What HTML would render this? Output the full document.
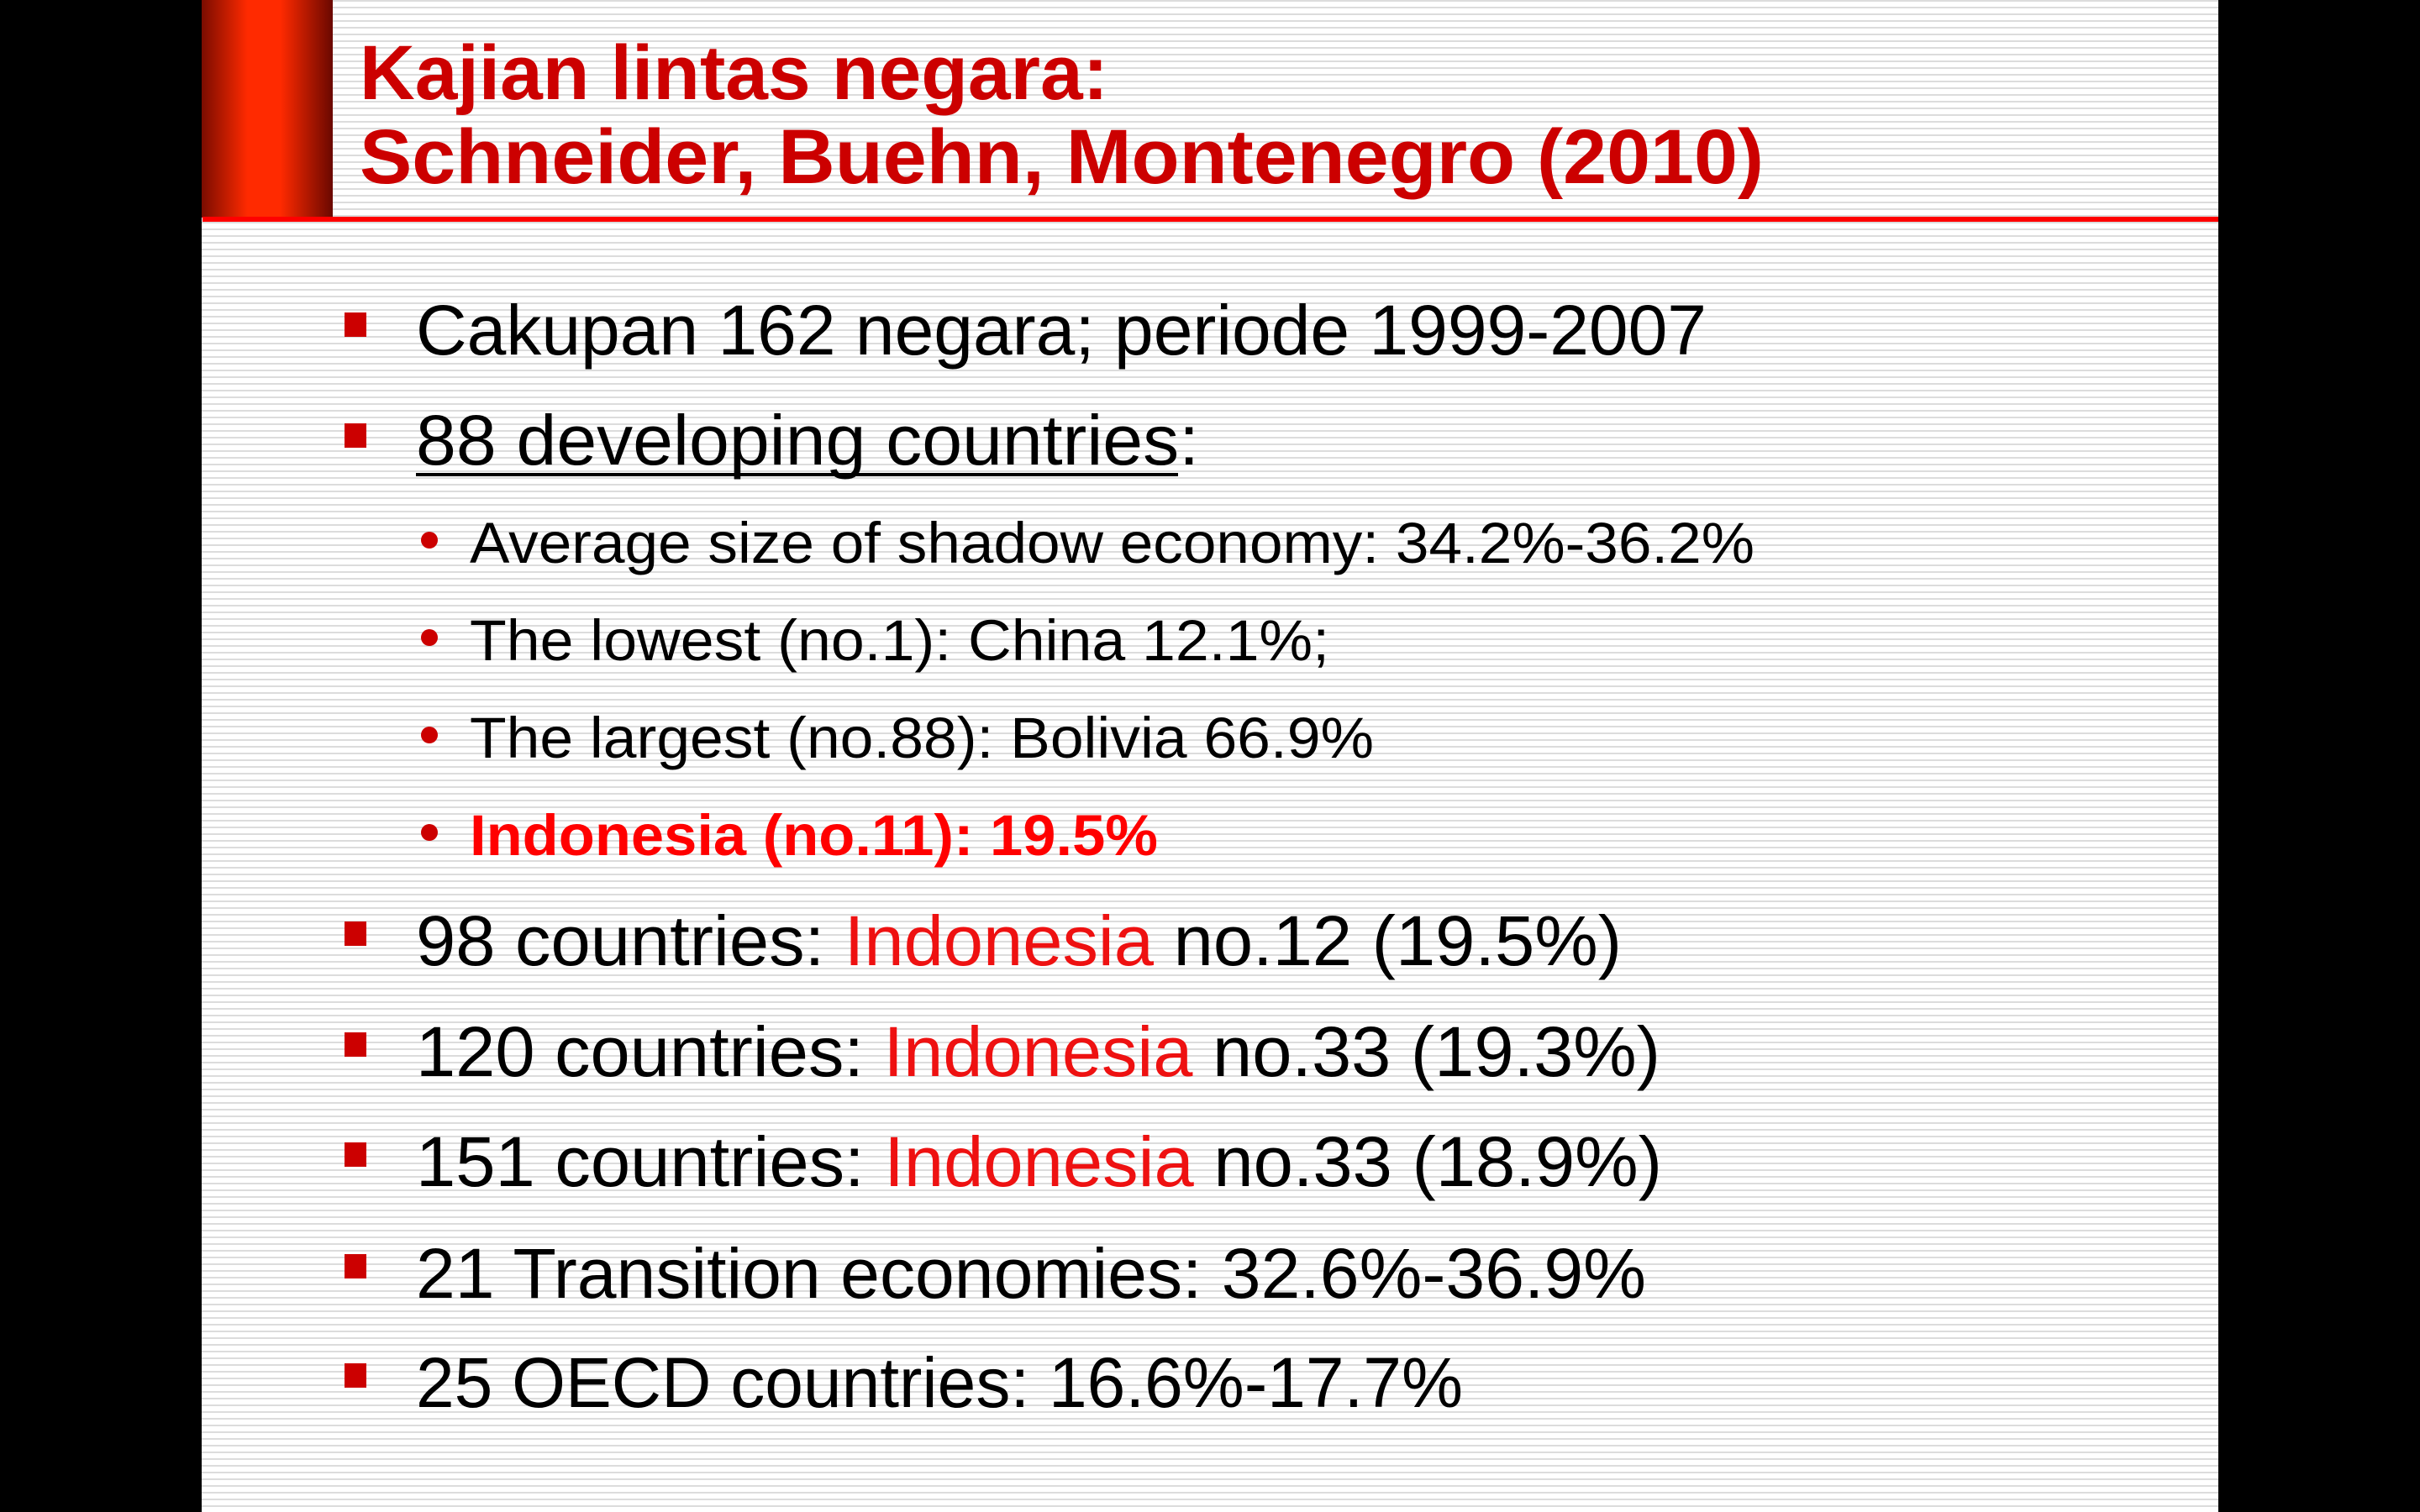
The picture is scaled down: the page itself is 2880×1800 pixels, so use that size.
<!DOCTYPE html>
<html><head><meta charset="utf-8"><style>
html,body{margin:0;padding:0;background:#000;}
svg{display:block}
</style></head><body>
<svg width="2880" height="1800" viewBox="0 0 2880 1800" xmlns="http://www.w3.org/2000/svg">
<defs>
<pattern id="st" width="8" height="8" patternUnits="userSpaceOnUse">
<rect width="8" height="8" fill="#ffffff"/>
<rect y="0" width="8" height="2" fill="#dcdcdc"/>
</pattern>
<linearGradient id="rg" x1="0" x2="1" y1="0" y2="0">
<stop offset="0" stop-color="#7a0c00"/>
<stop offset="0.35" stop-color="#ff2a00"/>
<stop offset="0.6" stop-color="#ff2a00"/>
<stop offset="1" stop-color="#6a0800"/>
</linearGradient>
</defs>
<rect width="2880" height="1800" fill="#000"/>
<rect x="240" y="0" width="2400" height="1800" fill="url(#st)"/>
<rect x="240" y="0" width="156" height="259" fill="url(#rg)"/>
<rect x="241" y="258" width="2399" height="6" fill="#ff0000"/>
<g font-family="Liberation Sans, sans-serif" font-weight="bold" fill="#cc0000" font-size="92">
<text x="428" y="118" textLength="891" lengthAdjust="spacingAndGlyphs">Kajian lintas negara:</text>
<text x="428" y="218" textLength="1671" lengthAdjust="spacingAndGlyphs">Schneider, Buehn, Montenegro (2010)</text>
</g>
<g fill="#cc0000">
<rect x="410" y="372" width="26" height="29"/>
<rect x="410" y="504" width="26" height="29"/>
<rect x="410" y="1097" width="26" height="29"/>
<rect x="410" y="1229" width="26" height="29"/>
<rect x="410" y="1360" width="26" height="29"/>
<rect x="410" y="1493" width="26" height="29"/>
<rect x="410" y="1623" width="26" height="29"/>
<circle cx="511" cy="643" r="10"/>
<circle cx="511" cy="759" r="10"/>
<circle cx="511" cy="875" r="10"/>
<circle cx="511" cy="991" r="10"/>
</g>
<g font-family="Liberation Sans, sans-serif" fill="#000" font-size="84">
<text x="495" y="422" textLength="1536" lengthAdjust="spacingAndGlyphs">Cakupan 162 negara; periode 1999-2007</text>
<text x="495" y="553" textLength="932" lengthAdjust="spacingAndGlyphs">88 developing countries:</text>
<text x="495" y="1149" textLength="1435" lengthAdjust="spacingAndGlyphs">98 countries: <tspan fill="#ee1111">Indonesia</tspan> no.12 (19.5%)</text>
<text x="495" y="1281" textLength="1481" lengthAdjust="spacingAndGlyphs">120 countries: <tspan fill="#ee1111">Indonesia</tspan> no.33 (19.3%)</text>
<text x="495" y="1412" textLength="1483" lengthAdjust="spacingAndGlyphs">151 countries: <tspan fill="#ee1111">Indonesia</tspan> no.33 (18.9%)</text>
<text x="495" y="1545" textLength="1464" lengthAdjust="spacingAndGlyphs">21 Transition economies: 32.6%-36.9%</text>
<text x="495" y="1675" textLength="1246" lengthAdjust="spacingAndGlyphs">25 OECD countries: 16.6%-17.7%</text>
</g>
<rect x="495" y="563" width="907" height="4" fill="#000"/>
<g font-family="Liberation Sans, sans-serif" fill="#000" font-size="69">
<text x="559" y="670" textLength="1529" lengthAdjust="spacingAndGlyphs">Average size of shadow economy: 34.2%-36.2%</text>
<text x="559" y="786" textLength="1023" lengthAdjust="spacingAndGlyphs">The lowest (no.1): China 12.1%;</text>
<text x="559" y="902" textLength="1076" lengthAdjust="spacingAndGlyphs">The largest (no.88): Bolivia 66.9%</text>
<text x="559" y="1018" textLength="819" lengthAdjust="spacingAndGlyphs" font-weight="bold" fill="#ff0000">Indonesia (no.11): 19.5%</text>
</g>
</svg>
</body></html>
